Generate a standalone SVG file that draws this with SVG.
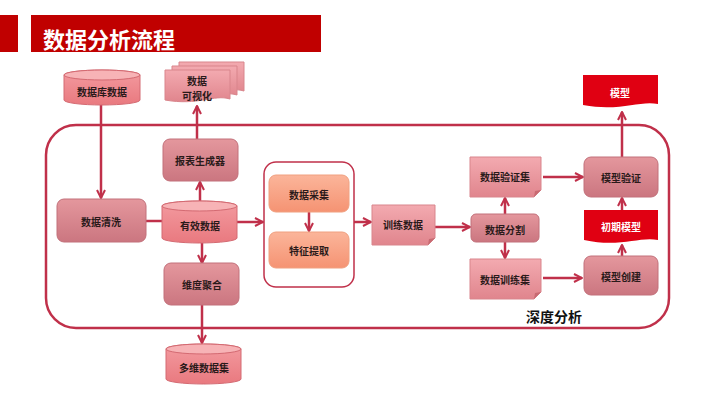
<svg xmlns="http://www.w3.org/2000/svg" width="720" height="405" viewBox="0 0 720 405">
<defs>
<linearGradient id="gBox" x1="0" y1="0" x2="0" y2="1"><stop offset="0" stop-color="#e4979d"/><stop offset="1" stop-color="#cb7680"/></linearGradient>
<linearGradient id="gCyl" x1="0" y1="0" x2="0" y2="1"><stop offset="0" stop-color="#f39ba0"/><stop offset="1" stop-color="#e9797f"/></linearGradient>
<linearGradient id="gDoc" x1="0" y1="0" x2="0" y2="1"><stop offset="0" stop-color="#f3aab0"/><stop offset="1" stop-color="#e0858d"/></linearGradient>
<linearGradient id="gOr" x1="0" y1="0" x2="0" y2="1"><stop offset="0" stop-color="#fbb59a"/><stop offset="1" stop-color="#f59373"/></linearGradient>
<marker id="arr" viewBox="0 0 10 10" refX="9" refY="5" markerWidth="10" markerHeight="10" markerUnits="userSpaceOnUse" orient="auto"><path d="M1,1 L9,5 L1,9" fill="none" stroke="#c0304a" stroke-width="2"/></marker>
</defs>
<style>
.t{font-family:"Noto Sans CJK SC","Noto Sans",sans-serif;font-size:10px;font-weight:bold;fill:#2a1a1a;text-anchor:middle;dominant-baseline:central}
.w{fill:#ffffff}
.box{fill:url(#gBox);stroke:#c2707a;stroke-width:1}
.cyl{fill:url(#gCyl);stroke:#d46a72;stroke-width:1}
.top{fill:#f7b3b6;stroke:#d46a72;stroke-width:1}
.doc{fill:url(#gDoc);stroke:#d9858c;stroke-width:1}
.red{fill:#e00012}
.or{fill:url(#gOr);stroke:#f0a080;stroke-width:1}
.c{fill:none;stroke:#c0304a;stroke-width:2.5}
</style>
<g id="title">
<rect x="0" y="15" width="18" height="37" fill="#c00000"/>
<rect x="31" y="15" width="290" height="37" fill="#c00000"/>
<text x="43" y="38" font-family="'Noto Sans CJK SC',sans-serif" font-size="22" font-weight="bold" fill="#ffffff" dominant-baseline="central">数据分析流程</text>
</g>
<g id="frame"><rect x="46" y="125" width="623" height="203" rx="30" fill="none" stroke="#c0304a" stroke-width="2.5"/></g>
<g id="group-box"><rect x="264" y="162" width="90" height="125" rx="12" fill="#ffffff" stroke="#c0304a" stroke-width="1.5"/></g>
<g id="connectors">
<path class="c" d="M101,105 V198" marker-end="url(#arr)"/>
<path class="c" d="M146,221 H162"/>
<path class="c" d="M200,201 V182" marker-end="url(#arr)"/>
<path class="c" d="M197,139 V106" marker-end="url(#arr)"/>
<path class="c" d="M237,222 H263" marker-end="url(#arr)"/>
<path class="c" d="M202,243 V263" marker-end="url(#arr)"/>
<path class="c" d="M202,305 V343" marker-end="url(#arr)"/>
<path class="c" d="M309,212 V231" marker-end="url(#arr)"/>
<path class="c" d="M354,222 H371" marker-end="url(#arr)"/>
<path class="c" d="M435,227 H470" marker-end="url(#arr)"/>
<path class="c" d="M505,214 V198" marker-end="url(#arr)"/>
<path class="c" d="M505,242 V258" marker-end="url(#arr)"/>
<path class="c" d="M543,177 H583" marker-end="url(#arr)"/>
<path class="c" d="M543,278 H582" marker-end="url(#arr)"/>
<path class="c" d="M622,256 V245" marker-end="url(#arr)"/>
<path class="c" d="M622,210 V198" marker-end="url(#arr)"/>
<path class="c" d="M622,157 V112" marker-end="url(#arr)"/>
</g>
<g id="db">
<path class="cyl" d="M64,75 A38,5 0 0 1 140,75 V100 A38,5 0 0 1 64,100 Z"/>
<ellipse class="top" cx="102" cy="75" rx="38" ry="5"/>
<text class="t" x="102" y="91">数据库数据</text>
</g>
<g id="viz">
<path class="doc" d="M179,62 H244 V91 C228,86 212,98 179,92 Z"/>
<path class="doc" d="M172,66 H237 V95 C221,90 205,102 172,96 Z"/>
<path class="doc" d="M165,70 H230 V99 C214,94 198,106 165,100 Z"/>
<text class="t" x="197" y="80">数据</text>
<text class="t" x="197" y="95">可视化</text>
</g>
<g id="report"><rect class="box" x="163" y="139" width="75" height="42" rx="7"/><text class="t" x="200" y="160">报表生成器</text></g>
<g id="clean"><rect class="box" x="57" y="199" width="89" height="43" rx="7"/><text class="t" x="101" y="221">数据清洗</text></g>
<g id="valid">
<path class="cyl" d="M162,206 A37.5,5 0 0 1 237,206 V238 A37.5,5 0 0 1 162,238 Z"/>
<ellipse class="top" cx="199.5" cy="206" rx="37.5" ry="5"/>
<text class="t" x="200" y="225">有效数据</text>
</g>
<g id="dim"><rect class="box" x="164" y="263" width="75" height="42" rx="7"/><text class="t" x="202" y="284">维度聚合</text></g>
<g id="multi">
<path class="cyl" d="M166,349 A37.5,5 0 0 1 241,349 V379 A37.5,5 0 0 1 166,379 Z"/>
<ellipse class="top" cx="203.5" cy="349" rx="37.5" ry="5"/>
<text class="t" x="204" y="367">多维数据集</text>
</g>
<g id="collect"><rect class="or" x="269" y="175" width="80" height="37" rx="7"/><text class="t" x="309" y="194">数据采集</text></g>
<g id="feature"><rect class="or" x="269" y="232" width="80" height="36" rx="7"/><text class="t" x="309" y="250">特征提取</text></g>
<g id="train">
<path class="doc" d="M372,205 H435 V238 L428,245 H372 Z"/>
<path d="M428,245 L429,239 L435,238" fill="#c86a72"/>
<text class="t" x="403" y="224">训练数据</text>
</g>
<g id="split"><rect class="box" x="471" y="214" width="68" height="28" rx="5"/><text class="t" x="505" y="229">数据分割</text></g>
<g id="valset">
<path class="doc" d="M470,157 H541 V190 L534,197 H470 Z"/>
<path d="M534,197 L535,191 L541,190" fill="#c86a72"/>
<text class="t" x="505" y="176">数据验证集</text>
</g>
<g id="trainset">
<path class="doc" d="M470,259 H541 V292 L534,299 H470 Z"/>
<path d="M534,299 L535,293 L541,292" fill="#c86a72"/>
<text class="t" x="505" y="279">数据训练集</text>
</g>
<g id="verify"><rect class="box" x="584" y="157" width="74" height="40" rx="7"/><text class="t" x="621" y="177">模型验证</text></g>
<g id="model"><path class="red" d="M583,75 H658 V104 C640,100 620,112 583,105 Z"/><text class="t w" x="620" y="92">模型</text></g>
<g id="init"><path class="red" d="M584,210 H658 V240 C640,236 620,248 584,240 Z"/><text class="t w" x="621" y="226">初期模型</text></g>
<g id="create"><rect class="box" x="584" y="256" width="74" height="39" rx="7"/><text class="t" x="621" y="276">模型创建</text></g>
<g id="deep"><text x="554" y="316" font-family="'Noto Sans CJK SC',sans-serif" font-size="14" font-weight="bold" fill="#111" text-anchor="middle" dominant-baseline="central">深度分析</text></g>
</svg>
